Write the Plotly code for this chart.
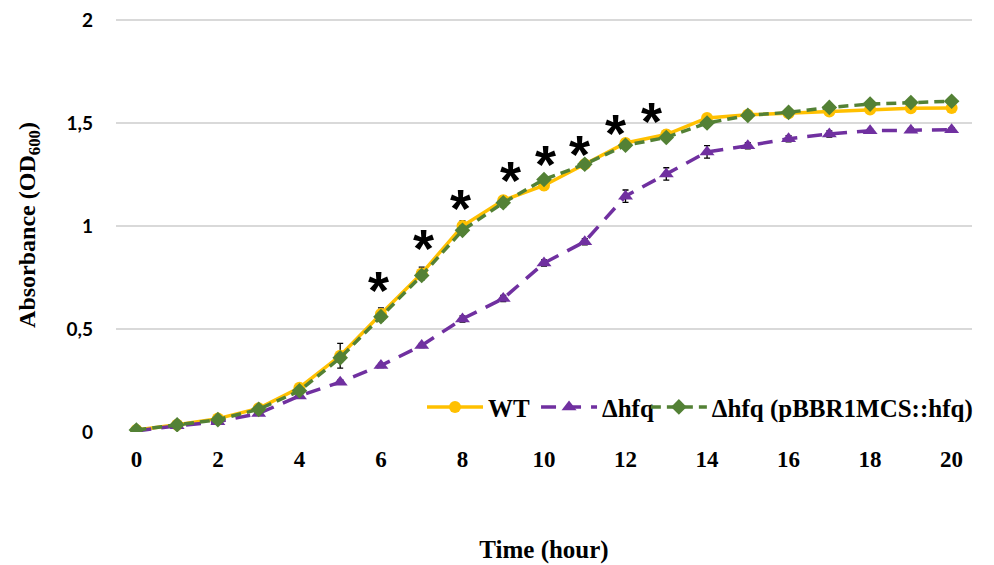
import plotly.graph_objects as go

hours = list(range(21))
wt = [0.01, 0.035, 0.065, 0.115, 0.215, 0.37, 0.573, 0.77, 1.0, 1.125, 1.197, 1.30, 1.403, 1.444, 1.525, 1.54, 1.548, 1.556, 1.566, 1.572, 1.573]
wt_err = [0.005, 0.005, 0.005, 0.008, 0.01, 0.06, 0.03, 0.03, 0.025, 0.02, 0.02, 0.015, 0.02, 0.02, 0.01, 0.01, 0.01, 0.01, 0.01, 0.01, 0.01]
dhfq = [0.005, 0.03, 0.05, 0.09, 0.175, 0.242, 0.323, 0.42, 0.549, 0.648, 0.82, 0.924, 1.145, 1.253, 1.36, 1.39, 1.424, 1.447, 1.463, 1.465, 1.468]
dhfq_err = [0.003, 0.003, 0.005, 0.005, 0.01, 0.01, 0.01, 0.01, 0.015, 0.015, 0.015, 0.015, 0.03, 0.03, 0.03, 0.015, 0.015, 0.015, 0.01, 0.01, 0.01]
comp = [0.01, 0.035, 0.06, 0.11, 0.2, 0.36, 0.56, 0.76, 0.979, 1.113, 1.226, 1.30, 1.392, 1.43, 1.50, 1.537, 1.552, 1.576, 1.592, 1.60, 1.606]
comp_err = [0.005, 0.005, 0.005, 0.005, 0.01, 0.02, 0.02, 0.02, 0.02, 0.02, 0.015, 0.015, 0.015, 0.015, 0.01, 0.01, 0.01, 0.01, 0.01, 0.01, 0.01]

star_x = [5.94, 7.05, 7.94, 9.17, 10.03, 10.86, 11.75, 12.63]
star_y = [0.734, 0.936, 1.13, 1.265, 1.347, 1.395, 1.496, 1.555]

y_tickvals = [0, 0.5, 1, 1.5, 2]
y_ticktext = ["0", "0,5", "1", "1,5", "2"]
x_tickvals = [0, 2, 4, 6, 8, 10, 12, 14, 16, 18, 20]

serif = "Liberation Serif"

fig = go.Figure()
fig.add_trace(go.Scatter(
    x=hours, y=wt, name="WT", mode="lines+markers", legend="legend",
    line=dict(color="#FFC000", width=3.5),
    marker=dict(symbol="circle", size=12, color="#FFC000"),
    error_y=dict(type="data", array=wt_err, color="black", thickness=1.3, width=3),
))
fig.add_trace(go.Scatter(
    x=hours, y=dhfq, name="Δhfq", mode="lines+markers", legend="legend2",
    line=dict(color="#7030A0", width=3.5, dash="15px,10px"),
    marker=dict(symbol="triangle-up", size=13, color="#7030A0"),
    error_y=dict(type="data", array=dhfq_err, color="black", thickness=1.3, width=3),
))
fig.add_trace(go.Scatter(
    x=hours, y=comp, name="Δhfq (pBBR1MCS::hfq)", mode="lines+markers", legend="legend3",
    line=dict(color="#538135", width=3.5, dash="10px,6px"),
    marker=dict(symbol="diamond", size=12, color="#538135"),
    error_y=dict(type="data", array=comp_err, color="black", thickness=1.3, width=3),
))

for sx, sy in zip(star_x, star_y):
    fig.add_annotation(
        x=sx, y=sy, text="*", showarrow=False, xanchor="center", yanchor="middle",
        yshift=-9, font=dict(family="Liberation Sans", size=54, color="black", weight="bold"),
    )

legend_font = dict(family=serif, size=25, color="black", weight="bold")
common_legend = dict(orientation="h", xanchor="left", y=0.06, yanchor="middle",
                     font=legend_font, bgcolor="rgba(0,0,0,0)", itemwidth=56)

fig.update_layout(
    width=986, height=557,
    margin=dict(l=108, r=22, t=10, b=133),
    plot_bgcolor="white", paper_bgcolor="white",
    showlegend=True,
    legend=dict(x=0.3575, **common_legend),
    legend2=dict(x=0.4907, **common_legend),
    legend3=dict(x=0.619, **common_legend),
    xaxis=dict(
        range=[-0.5, 20.5], tickvals=x_tickvals, showgrid=False, zeroline=False,
        showline=False, ticks="", automargin=False, ticklabelstandoff=11,
        tickfont=dict(family=serif, size=23, color="black", weight="bold"),
        title=dict(text="Time (hour)", font=dict(family=serif, size=25, color="black", weight="bold"), standoff=69),
    ),
    yaxis=dict(
        range=[0, 2.01], tickvals=y_tickvals, ticktext=y_ticktext,
        showgrid=True, gridcolor="#D9D9D9", gridwidth=1.5, zeroline=False,
        showline=False, ticks="", ticklabelstandoff=22, automargin=False,
        ticklabeloverflow="allow",
        tickfont=dict(family="Lato", size=19, color="black", weight="bold"),
        title=dict(text="Absorbance (OD<sub>600</sub>)", font=dict(family=serif, size=24, color="black", weight="bold"), standoff=24),
    ),
)

fig.write_html("out.html")
